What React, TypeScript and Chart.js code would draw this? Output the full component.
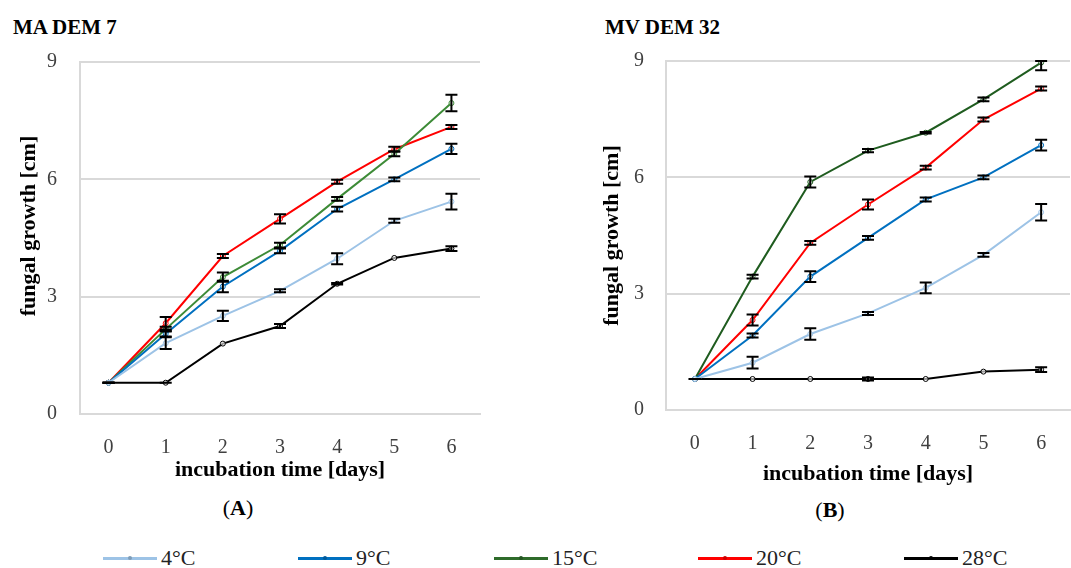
import React, { useEffect, useRef } from 'react';
import { Chart, registerables } from 'chart.js';

Chart.register(...registerables);

const days = ['0', '1', '2', '3', '4', '5', '6'];
const yTickValues = [0, 3, 6, 9];
const seriesLabels = ['4°C', '9°C', '15°C', '20°C', '28°C'];
const yTitleText = 'fungal growth [cm]';
const xTitleText = 'incubation time [days]';

// Panel A: MA DEM 7
const a4 = [0.8, 1.81, 2.51, 3.15, 3.97, 4.94, 5.43];
const a9 = [0.8, 2.05, 3.26, 4.17, 5.24, 6.0, 6.78];
const a15 = [0.8, 2.17, 3.5, 4.32, 5.5, 6.65, 7.95];
const a20 = [0.8, 2.32, 4.04, 4.99, 5.94, 6.77, 7.34];
const a28 = [0.8, 0.8, 1.8, 2.25, 3.33, 3.99, 4.23];
const a4Err = [0, 0.15, 0.13, 0.04, 0.14, 0.05, 0.2];
const a9Err = [0, 0.07, 0.15, 0.06, 0.06, 0.05, 0.13];
const a15Err = [0, 0.06, 0.12, 0.06, 0.05, 0.06, 0.21];
const a20Err = [0, 0.16, 0.05, 0.12, 0.05, 0.06, 0.05];
const a28Err = [0, 0, null, 0.05, 0.02, null, 0.06];

// Panel B: MV DEM 32
const b4 = [0.8, 1.22, 1.96, 2.49, 3.15, 4.0, 5.1];
const b9 = [0.8, 1.92, 3.44, 4.44, 5.43, 6.0, 6.83];
const b15 = [0.8, 3.44, 5.88, 6.69, 7.15, 8.01, 8.96];
const b20 = [0.8, 2.32, 4.31, 5.3, 6.25, 7.49, 8.29];
const b28 = [0.8, 0.8, 0.8, 0.8, 0.8, 0.99, 1.04];
const b4Err = [0, 0.15, 0.15, 0.04, 0.14, 0.05, 0.21];
const b9Err = [0, 0.05, 0.14, 0.05, 0.05, 0.05, 0.14];
const b15Err = [0, 0.05, 0.14, 0.04, 0.02, 0.05, 0.2];
const b20Err = [0, 0.14, 0.05, 0.13, 0.05, 0.05, 0.05];
const b28Err = [0, null, null, 0.04, null, null, 0.06];

const colorsA = ['#9DC3E6', '#0070C0', '#3D8B37', '#FF0000', '#000000'];
const colorsB = ['#9DC3E6', '#0070C0', '#1F5C1F', '#FF0000', '#000000'];
const legendColors = ['#9DC3E6', '#0070C0', '#2E6B2A', '#FF0000', '#000000'];

const SERIF = '"Liberation Serif", "Times New Roman", serif';

const errorBarPlugin = {
  id: 'errorBars',
  afterDatasetsDraw(chart: any) {
    const ctx = chart.ctx;
    const y = chart.scales.y;
    chart.data.datasets.forEach((ds: any, i: number) => {
      const errs = ds.errors;
      if (!errs) return;
      const meta = chart.getDatasetMeta(i);
      meta.data.forEach((pt: any, j: number) => {
        const e = errs[j];
        if (e === null || e === undefined) return;
        const v = ds.data[j];
        const top = y.getPixelForValue(Math.min(v + e, y.max));
        const bot = y.getPixelForValue(Math.max(v - e, y.min));
        const x = pt.x;
        ctx.save();
        ctx.strokeStyle = '#000';
        ctx.lineWidth = 2;
        ctx.beginPath();
        ctx.moveTo(x, top);
        ctx.lineTo(x, bot);
        ctx.moveTo(x - 6, top);
        ctx.lineTo(x + 6, top);
        ctx.moveTo(x - 6, bot);
        ctx.lineTo(x + 6, bot);
        ctx.stroke();
        ctx.restore();
      });
    });
  },
};

// Draws the vertical axis title with a vertical offset from the plot centre.
function makeYTitlePlugin(centerX: number, shift: number) {
  return {
    id: 'yTitleShifted',
    afterDraw(chart: any) {
      const ctx = chart.ctx;
      const area = chart.chartArea;
      const cy = (area.top + area.bottom) / 2 + shift;
      ctx.save();
      ctx.translate(centerX, cy);
      ctx.rotate(-Math.PI / 2);
      ctx.font = `bold 22px ${SERIF}`;
      ctx.fillStyle = '#000';
      ctx.textAlign = 'center';
      ctx.textBaseline = 'middle';
      ctx.fillText(yTitleText, 0, 0);
      ctx.restore();
    },
  };
}

function makeConfig(
  series: number[][],
  errors: (number | null)[][],
  colors: string[],
  opts: {
    padTop: number;
    padRight: number;
    xHeight: number;
    xTitlePad: number;
    yTitleX: number;
    yTitleShift: number;
    yTickGap: number;
    xTickPad: number;
  }
) {
  return {
    type: 'line',
    data: {
      labels: days,
      datasets: series.map((d, i) => ({
        label: seriesLabels[i],
        data: d,
        errors: errors[i],
        borderColor: colors[i],
        backgroundColor: '#ffffff',
        borderWidth: 2,
        pointRadius: 2.5,
        pointBorderWidth: 1,
        pointBorderColor: colors[i],
        pointBackgroundColor: 'rgba(255,255,255,0.6)',
        tension: 0,
      })),
    },
    options: {
      animation: false,
      responsive: false,
      layout: { padding: { top: opts.padTop, right: opts.padRight, left: 0, bottom: 0 } },
      plugins: { legend: { display: false }, tooltip: { enabled: false }, title: { display: false } },
      scales: {
        x: {
          type: 'category',
          offset: true,
          grid: { display: false, drawTicks: false },
          border: { display: true, color: '#D9D9D9', width: 2 },
          ticks: { color: '#404040', padding: opts.xTickPad, font: { family: SERIF, size: 20 } },
          title: {
            display: true,
            text: xTitleText,
            color: '#000',
            font: { family: SERIF, size: 22, weight: 'bold' },
            padding: { top: 0, bottom: opts.xTitlePad },
          },
          afterFit: (s: any) => {
            s.height = opts.xHeight;
          },
        },
        y: {
          min: 0,
          max: 9,
          grid: {
            color: '#D9D9D9',
            lineWidth: 2,
            drawTicks: true,
            tickLength: opts.yTickGap,
            tickColor: 'rgba(0,0,0,0)',
          },
          border: { display: true, color: '#D9D9D9', width: 2 },
          ticks: { color: '#404040', padding: 0, font: { family: SERIF, size: 20 } },
          afterBuildTicks: (s: any) => {
            s.ticks = yTickValues.map((v) => ({ value: v }));
          },
          title: { display: false },
          afterFit: (s: any) => {
            s.width = 80;
          },
        },
      },
    },
    plugins: [errorBarPlugin, makeYTitlePlugin(opts.yTitleX, opts.yTitleShift)],
  };
}

function ChartCanvas({ left, top, width, height, config }: any) {
  const ref = useRef<HTMLCanvasElement>(null);
  useEffect(() => {
    if (!ref.current) return;
    const chart = new Chart(ref.current, config);
    return () => chart.destroy();
  }, []);
  return (
    <canvas
      ref={ref}
      width={width}
      height={height}
      style={{ position: 'absolute', left, top, width, height }}
    />
  );
}

const legendX = [103, 298, 494, 698, 904];

export default function App() {
  const configA = makeConfig(
    [a4, a9, a15, a20, a28],
    [a4Err, a9Err, a15Err, a20Err, a28Err],
    colorsA,
    { padTop: 22, padRight: 60, xHeight: 76, xTitlePad: 6, yTitleX: 29, yTitleShift: -12, yTickGap: 23, xTickPad: 22 }
  );
  const configB = makeConfig(
    [b4, b9, b15, b20, b28],
    [b4Err, b9Err, b15Err, b20Err, b28Err],
    colorsB,
    { padTop: 21, padRight: 0, xHeight: 80, xTitlePad: 2, yTitleX: 26, yTitleShift: 0, yTickGap: 22, xTickPad: 22 }
  );
  const titleStyle: any = {
    position: 'absolute',
    top: 14,
    fontFamily: SERIF,
    fontSize: 21,
    fontWeight: 'bold',
    lineHeight: '26px',
    color: '#000',
    whiteSpace: 'nowrap',
  };
  const panelLabel: any = {
    position: 'absolute',
    width: 100,
    textAlign: 'center',
    fontFamily: SERIF,
    fontSize: 22,
    lineHeight: '26px',
    color: '#000',
  };
  return (
    <div
      style={{
        position: 'absolute',
        left: 0,
        top: 0,
        width: 1071,
        height: 568,
        overflow: 'hidden',
        background: '#fff',
      }}
    >
      <div style={{ ...titleStyle, left: 13 }}>MA DEM 7</div>
      <div style={{ ...titleStyle, left: 605 }}>MV DEM 32</div>
      <ChartCanvas left={0} top={40} width={540} height={450} config={configA} />
      <ChartCanvas left={586} top={40} width={489} height={450} config={configB} />
      <div style={{ ...panelLabel, left: 188, top: 495 }}>
        (<b>A</b>)
      </div>
      <div style={{ ...panelLabel, left: 780, top: 497 }}>
        (<b>B</b>)
      </div>
      {seriesLabels.map((lab, i) => (
        <React.Fragment key={lab}>
          <div
            style={{
              position: 'absolute',
              left: legendX[i],
              top: 557,
              width: 54,
              height: 3,
              background: legendColors[i],
            }}
          />
          <div
            style={{
              position: 'absolute',
              left: legendX[i] + 25,
              top: 556,
              width: 4,
              height: 4,
              borderRadius: 2,
              background: legendColors[i],
              filter: 'brightness(0.8)',
            }}
          />
          <div
            style={{
              position: 'absolute',
              left: legendX[i] + 58,
              top: 545,
              fontFamily: SERIF,
              fontSize: 22,
              lineHeight: '26px',
              color: '#222',
              whiteSpace: 'nowrap',
            }}
          >
            {lab}
          </div>
        </React.Fragment>
      ))}
    </div>
  );
}
